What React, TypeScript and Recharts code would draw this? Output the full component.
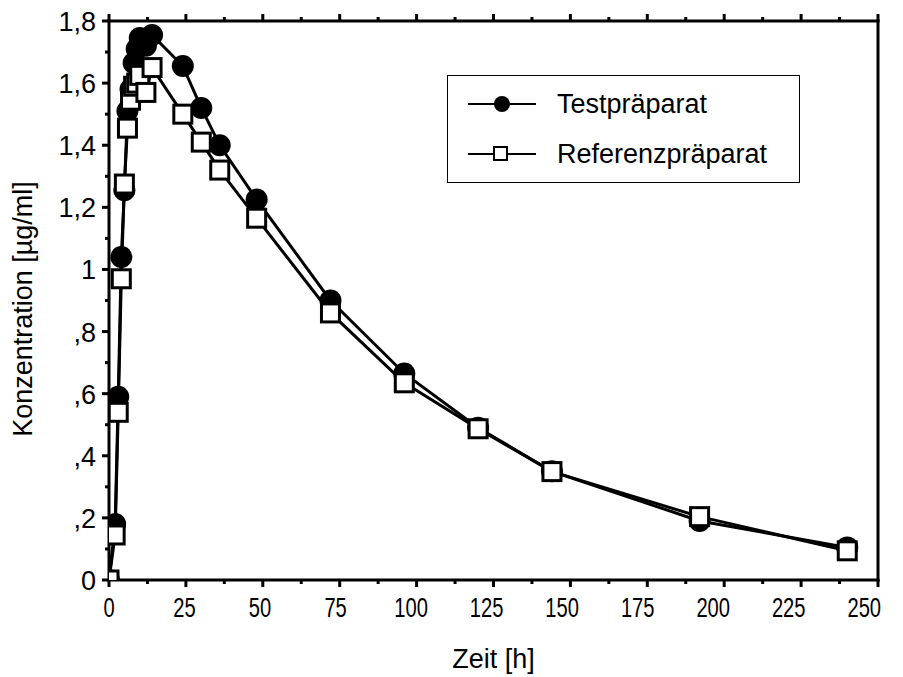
import { LineChart, Line, XAxis, YAxis, Legend, Label } from 'recharts'

const HOURS = [0, 2, 3, 4, 5, 6, 7, 8, 9, 10, 12, 14, 24, 30, 36, 48, 72, 96, 120, 144, 192, 240]
const TEST = [0, 0.18, 0.59, 1.04, 1.255, 1.51, 1.58, 1.665, 1.71, 1.745, 1.72, 1.755, 1.655, 1.52, 1.4, 1.225, 0.9, 0.665, 0.49, 0.35, 0.19, 0.105]
const REF = [0, 0.145, 0.54, 0.97, 1.275, 1.455, 1.545, 1.59, 1.6, 1.625, 1.57, 1.65, 1.5, 1.41, 1.32, 1.165, 0.86, 0.635, 0.487, 0.349, 0.204, 0.094]

const X_TICKS = [0, 12.5, 25, 37.5, 50, 62.5, 75, 87.5, 100, 112.5, 125, 137.5, 150, 162.5, 175, 187.5, 200, 212.5, 225, 237.5, 250]
const Y_TICKS = [0, 0.1, 0.2, 0.3, 0.4, 0.5, 0.6, 0.7, 0.8, 0.9, 1, 1.1, 1.2, 1.3, 1.4, 1.5, 1.6, 1.7, 1.8]

const FONT = '"Liberation Sans", Arial, sans-serif'
const data = HOURS.map((t, i) => ({ t, test: TEST[i], ref: REF[i] }))

const isMajorX = (v: number) => v % 25 === 0
const isMajorY = (v: number) => Math.round(v * 10) % 2 === 0
const fmtY = (v: number) => {
  const s = (Math.round(v * 10) / 10).toString().replace('.', ',')
  return s.startsWith('0,') ? s.slice(1) : s
}
const axisLine = { stroke: '#000', strokeWidth: 3, strokeLinecap: 'square' as const }

// x tick numbers are narrow in the original and drift slightly left of their ticks
const BottomTick = ({ x, y, payload }: any) => {
  const v = payload.value
  const major = isMajorX(v)
  const len = String(v).length * 11.2
  return (
    <g>
      <line x1={x} x2={x} y1={y} y2={y + (major ? 7 : 4)} stroke="#000" strokeWidth={3} />
      {major && (
        <text x={x - v * 0.055 - len / 2} y={y + 37} textLength={len} lengthAdjust="spacingAndGlyphs"
          fontSize={27} fontFamily={FONT} fill="#000">{v}</text>
      )}
    </g>
  )
}

const TopTick = ({ x, y, payload }: any) => (
  <line x1={x} x2={x} y1={y} y2={y - (isMajorX(payload.value) ? 7 : 4)} stroke="#000" strokeWidth={3} />
)

const LeftTick = ({ x, y, payload }: any) => {
  const major = isMajorY(payload.value)
  return (
    <g>
      <line x1={x} x2={x - (major ? 7 : 4)} y1={y} y2={y} stroke="#000" strokeWidth={3} />
      {major && (
        <text x={x - 13} y={y + 10} textAnchor="end" fontSize={27} fontFamily={FONT} fill="#000">{fmtY(payload.value)}</text>
      )}
    </g>
  )
}

const RightTick = ({ x, y, payload }: any) => (
  <line x1={x} x2={x + (isMajorY(payload.value) ? 7 : 4)} y1={y} y2={y} stroke="#000" strokeWidth={3} />
)

const CircleDot = (p: any) => <circle key={`c${p.index}`} cx={p.cx} cy={p.cy} r={11} fill="#000" />
const SquareDot = (p: any) => (
  <rect key={`s${p.index}`} x={p.cx - 9} y={p.cy - 9} width={18} height={18} fill="#fff" stroke="#000" strokeWidth={3} />
)

function LegendBox() {
  const row = (label: string, square: boolean) => (
    <div style={{ display: 'flex', alignItems: 'center', height: 50 }}>
      <svg width={90} height={20}>
        <line x1={20} x2={88} y1={10} y2={10} stroke="#000" strokeWidth={2} />
        {square
          ? <rect x={46} y={3} width={13} height={13} fill="#fff" stroke="#000" strokeWidth={2} />
          : <circle cx={54} cy={10} r={8} fill="#000" />}
      </svg>
      <span style={{ marginLeft: 19, fontSize: 27, fontFamily: FONT, color: '#000' }}>{label}</span>
    </div>
  )
  return (
    <div style={{ border: '1.5px solid #000', width: 353, height: 108, boxSizing: 'border-box', paddingTop: 3, background: '#fff' }}>
      {row('Testpräparat', false)}
      {row('Referenzpräparat', true)}
    </div>
  )
}

export default function App() {
  return (
    <div style={{ position: 'absolute', left: 0, top: 0, width: 903, height: 677, background: '#fff' }}>
      <LineChart width={903} height={677} data={data} margin={{ top: 20, right: 24, bottom: 96, left: 108 }}>
        <XAxis dataKey="t" type="number" domain={[0, 250]} ticks={X_TICKS} interval={0} allowDataOverflow
          height={1} tickSize={0} tickMargin={0} tickLine={false} tick={<BottomTick />} axisLine={axisLine}>
          <Label position="bottom" offset={68} value="Zeit [h]" fontSize={27} fontFamily={FONT} fill="#000" />
        </XAxis>
        <XAxis xAxisId="top" orientation="top" dataKey="t" type="number" domain={[0, 250]} ticks={X_TICKS} interval={0}
          height={1} tickSize={0} tickMargin={0} tickLine={false} tick={<TopTick />} axisLine={axisLine} />
        <YAxis type="number" domain={[0, 1.8]} ticks={Y_TICKS} interval={0} allowDataOverflow
          width={1} tickSize={0} tickMargin={0} tickLine={false} tick={<LeftTick />} axisLine={axisLine}>
          <Label content={() => (
            <text x={0} y={0} transform="translate(32 309) rotate(-90)" textAnchor="middle"
              fontSize={27} fontFamily={FONT} fill="#000">Konzentration [µg/ml]</text>
          )} />
        </YAxis>
        <YAxis yAxisId="right" orientation="right" type="number" domain={[0, 1.8]} ticks={Y_TICKS} interval={0}
          width={1} tickSize={0} tickMargin={0} tickLine={false} tick={<RightTick />} axisLine={axisLine} />
        <Legend layout="horizontal" verticalAlign="middle" align="center" content={<LegendBox />}
          wrapperStyle={{ position: 'absolute', left: 447, top: 75, width: 353, height: 108 }} />
        <Line type="linear" dataKey="test" name="Testpräparat" stroke="#000" strokeWidth={3}
          dot={CircleDot} activeDot={false} isAnimationActive={false} />
        <Line type="linear" dataKey="ref" name="Referenzpräparat" stroke="#000" strokeWidth={3}
          dot={SquareDot} activeDot={false} isAnimationActive={false} />
      </LineChart>
    </div>
  )
}
